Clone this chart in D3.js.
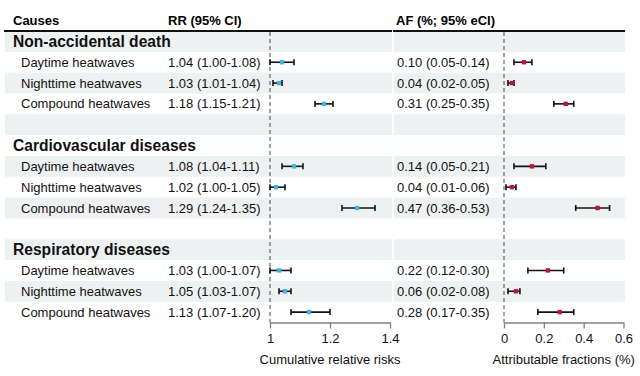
<!DOCTYPE html>
<html>
<head>
<meta charset="utf-8">
<script src="https://cdn.jsdelivr.net/npm/d3@7"></script>
<style>
  html, body { margin: 0; padding: 0; background: #fff; }
  svg { display: block; font-family: 'Liberation Sans', Arial, sans-serif; }
</style>
</head>
<body>
<div id="chart"></div>
<script>
const groups = ['Non-accidental death', 'Cardiovascular diseases', 'Respiratory diseases'];
const types = ['Daytime heatwaves', 'Nighttime heatwaves', 'Compound heatwaves'];

const rrEst = [1.04, 1.03, 1.18, 1.08, 1.02, 1.29, 1.03, 1.05, 1.13];
const rrLow = [1.00, 1.01, 1.15, 1.04, 1.00, 1.24, 1.00, 1.03, 1.07];
const rrHigh = [1.08, 1.04, 1.21, 1.11, 1.05, 1.35, 1.07, 1.07, 1.20];

const afEst = [0.10, 0.04, 0.31, 0.14, 0.04, 0.47, 0.22, 0.06, 0.28];
const afLow = [0.05, 0.02, 0.25, 0.05, 0.01, 0.36, 0.12, 0.02, 0.17];
const afHigh = [0.14, 0.05, 0.35, 0.21, 0.06, 0.53, 0.30, 0.08, 0.35];

const rrTicks = [1, 1.2, 1.4];
const rrTickLabels = ['1', '1.2', '1.4'];
const afTicks = [0, 0.2, 0.4, 0.6];
const afTickLabels = ['0', '0.2', '0.4', '0.6'];

const width = 640;
const height = 376;

// build table rows: group header, 3 rows, blank spacer between groups
let rows = [];
groups.forEach((g, gi) => {
  rows.push({ kind: 'group', label: g });
  types.forEach((t, ti) => {
    let k = gi * 3 + ti;
    rows.push({
      kind: 'item',
      label: t,
      rr: rrEst[k], rrLo: rrLow[k], rrHi: rrHigh[k],
      af: afEst[k], afLo: afLow[k], afHi: afHigh[k],
    });
  });
  if (gi < groups.length - 1) rows.push({ kind: 'blank' });
});

const tableTop = 31;
const tableBottom = 322.5;

const yRow = d3.scaleLinear().domain([0, rows.length]).range([tableTop, tableBottom]);
const rowH = yRow(1) - yRow(0);
const yMid = (i) => yRow(i + 0.5);

const xRR = d3.scaleLinear().domain([1, 1.4]).range([270, 390]);
const xAF = d3.scaleLinear().domain([0, 0.6]).range([504, 623.5]);

const fmt = d3.format('.2f');

const svg = d3.select('#chart').append('svg')
  .attr('width', width)
  .attr('height', height)
  .attr('viewBox', `0 0 ${width} ${height}`);

// striped background
const panels = [[5, 392], [394, 625]];
rows.forEach((r, i) => {
  if (i % 2 !== 0) return;
  panels.forEach(([x0, x1]) => {
    svg.append('rect')
      .attr('x', x0).attr('y', yRow(i))
      .attr('width', x1 - x0).attr('height', rowH)
      .attr('fill', '#eef1f1');
  });
});

// header
svg.append('text').attr('x', 13).attr('y', 20).attr('dy', '0.35em')
  .attr('font-size', 13).attr('font-weight', 'bold').text('Causes');
svg.append('text').attr('x', 168).attr('y', 20).attr('dy', '0.35em')
  .attr('font-size', 13).attr('font-weight', 'bold').text('RR (95% CI)');
svg.append('text').attr('x', 396).attr('y', 20).attr('dy', '0.35em')
  .attr('font-size', 13).attr('font-weight', 'bold').text('AF (%; 95% eCI)');

panels.forEach(([x0, x1]) => {
  svg.append('line')
    .attr('x1', x0 - 1).attr('x2', x1)
    .attr('y1', tableTop).attr('y2', tableTop)
    .attr('stroke', '#111').attr('stroke-width', 2);
});

// reference lines
svg.append('line')
  .attr('x1', xRR(1)).attr('x2', xRR(1))
  .attr('y1', tableTop + 1).attr('y2', tableBottom)
  .attr('stroke', '#666').attr('stroke-width', 1.2)
  .attr('stroke-dasharray', '4,3');
svg.append('line')
  .attr('x1', xAF(0)).attr('x2', xAF(0))
  .attr('y1', tableTop + 1).attr('y2', tableBottom)
  .attr('stroke', '#666').attr('stroke-width', 1.2)
  .attr('stroke-dasharray', '4,3');

// row text
rows.forEach((r, i) => {
  if (r.kind === 'group') {
    svg.append('text').attr('x', 13).attr('y', yMid(i)).attr('dy', '0.36em')
      .attr('font-size', 15.6).attr('font-weight', 'bold').attr('fill', '#111')
      .text(r.label);
  } else if (r.kind === 'item') {
    svg.append('text').attr('x', 21).attr('y', yMid(i)).attr('dy', '0.35em')
      .attr('font-size', 13).attr('fill', '#111').text(r.label);
    svg.append('text').attr('x', 168).attr('y', yMid(i)).attr('dy', '0.35em')
      .attr('font-size', 13).attr('fill', '#111')
      .text(`${fmt(r.rr)} (${fmt(r.rrLo)}-${fmt(r.rrHi)})`);
    svg.append('text').attr('x', 397).attr('y', yMid(i)).attr('dy', '0.35em')
      .attr('font-size', 13).attr('fill', '#111')
      .text(`${fmt(r.af)} (${fmt(r.afLo)}-${fmt(r.afHi)})`);
  }
});

// error bars + points
function drawCI(x, lo, hi, est, y, color) {
  const g = svg.append('g');
  const cap = 3;
  g.append('line').attr('x1', x(lo)).attr('x2', x(hi)).attr('y1', y).attr('y2', y)
    .attr('stroke', '#111').attr('stroke-width', 1.6);
  [lo, hi].forEach((v) => {
    g.append('line').attr('x1', x(v)).attr('x2', x(v)).attr('y1', y - cap).attr('y2', y + cap)
      .attr('stroke', '#111').attr('stroke-width', 1.6);
  });
  const s = 4.4;
  g.append('rect').attr('x', x(est) - s / 2).attr('y', y - s / 2)
    .attr('width', s).attr('height', s).attr('fill', color);
}

rows.forEach((r, i) => {
  if (r.kind !== 'item') return;
  drawCI(xRR, r.rrLo, r.rrHi, r.rr, yMid(i), '#3cb1ea');
  drawCI(xAF, r.afLo, r.afHi, r.af, yMid(i), '#c0123f');
});

// axes
function styleAxis(g) {
  g.select('.domain').attr('stroke', '#808080').attr('stroke-width', 1.3);
  g.selectAll('.tick line').attr('stroke', '#808080').attr('stroke-width', 1.3);
  g.selectAll('.tick text').attr('font-size', 13).attr('fill', '#111')
    .attr('font-family', "'Liberation Sans', Arial, sans-serif").attr('dy', '0.9em');
}

svg.append('g')
  .attr('transform', `translate(0, ${tableBottom})`)
  .call(d3.axisBottom(xRR).tickValues(rrTicks).tickSize(6).tickSizeOuter(0)
    .tickFormat((d, i) => rrTickLabels[i]))
  .call(styleAxis);

svg.append('g')
  .attr('transform', `translate(0, ${tableBottom})`)
  .call(d3.axisBottom(xAF).tickValues(afTicks).tickSize(6).tickSizeOuter(0)
    .tickFormat((d, i) => afTickLabels[i]))
  .call(styleAxis);

svg.append('text').attr('x', (xRR.range()[0] + xRR.range()[1]) / 2).attr('y', 359)
  .attr('dy', '0.35em').attr('text-anchor', 'middle').attr('font-size', 13).attr('fill', '#111')
  .text('Cumulative relative risks');
svg.append('text').attr('x', (xAF.range()[0] + xAF.range()[1]) / 2).attr('y', 359)
  .attr('dy', '0.35em').attr('text-anchor', 'middle').attr('font-size', 13).attr('fill', '#111')
  .text('Attributable fractions (%)');
</script>
</body>
</html>
